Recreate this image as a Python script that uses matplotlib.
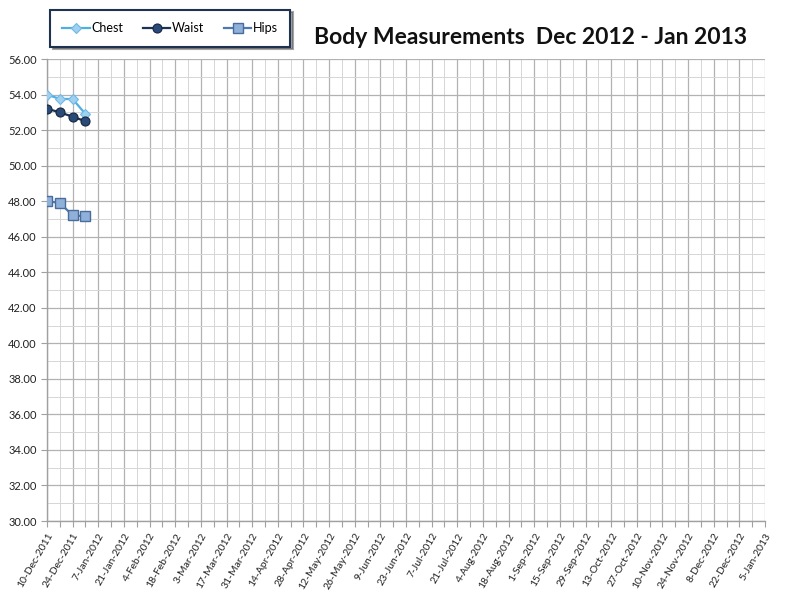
import datetime as dt
import matplotlib
matplotlib.use("Agg")
import matplotlib.pyplot as plt
import matplotlib.dates as mdates
from matplotlib.ticker import MultipleLocator, FixedLocator

dates = ["2011-12-10", "2011-12-17", "2011-12-24", "2011-12-31"]
chest = [54.0, 53.75, 53.75, 52.9]
waist = [53.2, 53.0, 52.75, 52.5]
hips = [48.0, 47.9, 47.2, 47.15]
title = "Body Measurements  Dec 2012 - Jan 2013"

x_start = dt.date(2011, 12, 10)
x_end = dt.date(2013, 1, 5)

plt.rcParams['font.family'] = ['Lato', 'DejaVu Sans']

fig = plt.figure(figsize=(7.88, 5.91), dpi=100)
ax = fig.add_axes([47/788, 1-521/591, (765-47)/788, (521-59)/591])

xd = [dt.date.fromisoformat(d) for d in dates]

ax.plot(xd, chest, color='#4fb0e0', lw=1.6, marker='D', ms=5.5,
        mfc='#9fd0ef', mec='#6fb8e6', mew=0.8, label='Chest', zorder=5)
ax.plot(xd, waist, color='#1b3252', lw=1.6, marker='o', ms=6.5,
        mfc='#2a4a78', mec='#15263f', mew=0.8, label='Waist', zorder=5)
ax.plot(xd, hips, color='#4f78b0', lw=1.6, marker='s', ms=7,
        mfc='#8eb0d9', mec='#4a6c9c', mew=1.0, label='Hips', zorder=5)

ax.set_ylim(30, 56)
ax.set_xlim(mdates.date2num(x_start), mdates.date2num(x_end))

major = []
d = x_start
while d <= x_end:
    major.append(d)
    d += dt.timedelta(days=14)
minor = [m + dt.timedelta(days=7) for m in major[:-1]]

ax.xaxis.set_major_locator(FixedLocator(mdates.date2num(major)))
ax.xaxis.set_minor_locator(FixedLocator(mdates.date2num(minor)))
ax.set_xticklabels([f"{m.day}-{m.strftime('%b-%Y')}" for m in major],
                   rotation=60, ha='right', rotation_mode='anchor', fontsize=7.5, color='#222222')
ax.yaxis.set_major_locator(MultipleLocator(2))
ax.yaxis.set_minor_locator(MultipleLocator(1))
ax.yaxis.set_major_formatter(matplotlib.ticker.FormatStrFormatter('%.2f'))
ax.tick_params(axis='y', labelsize=8, colors='#222222')
ax.tick_params(axis='both', which='both', direction='out', color='#a0a0a0', length=4, width=0.8)
ax.tick_params(axis='x', which='minor', length=4)
ax.tick_params(axis='y', which='minor', length=0)

ax.grid(which='major', color='#b2b2b2', lw=0.9)
ax.grid(which='minor', color='#d6d6d6', lw=0.7)
ax.set_axisbelow(True)
for s in ['top', 'right']:
    ax.spines[s].set_visible(False)
for s in ['left', 'bottom']:
    ax.spines[s].set_color('#a0a0a0')
    ax.spines[s].set_linewidth(1.0)

leg = fig.legend(loc='center', bbox_to_anchor=(170/788, 1-28/591), ncol=3,
                 frameon=True, fancybox=False, shadow=True, fontsize=9,
                 handlelength=2.2, handletextpad=0.1, columnspacing=1.6,
                 borderpad=1.0)
leg.get_frame().set_edgecolor('#1f3350')
leg.get_frame().set_linewidth(1.5)

fig.text(531/788, 1-37/591, title, ha='center', va='center',
         fontsize=16.5, fontweight='bold', color='#111111')

fig.savefig('out.png', dpi=100, facecolor='white')
